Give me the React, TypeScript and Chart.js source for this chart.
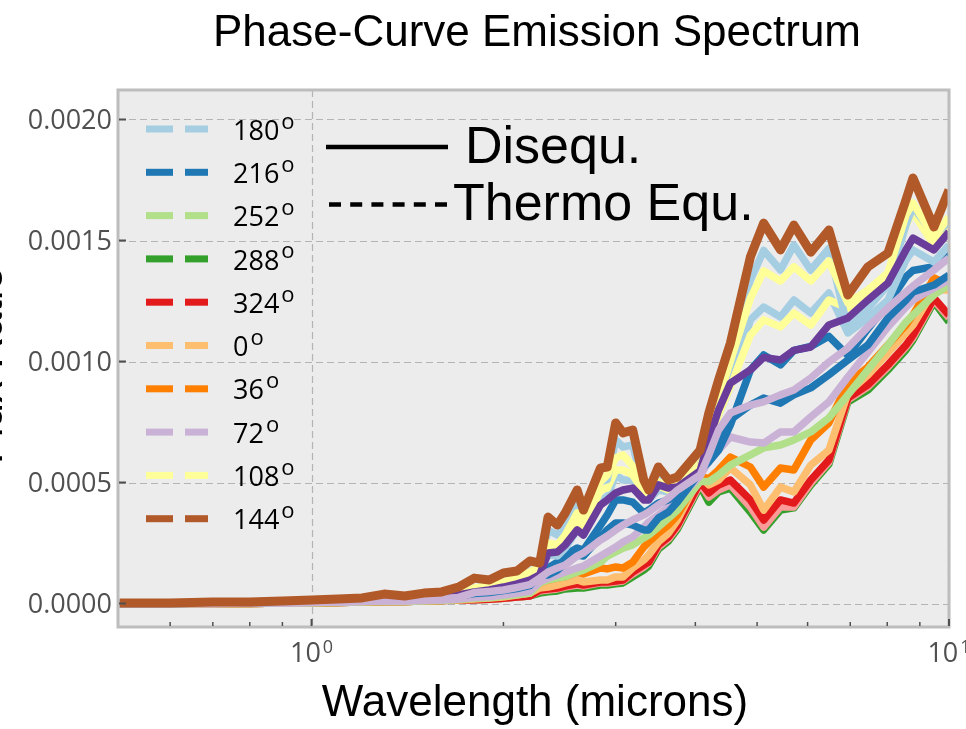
import React, { useEffect, useRef } from "react";
import { Chart, registerables } from "chart.js";

Chart.register(...registerables);

// Wavelength grid (microns)
const wavelengths = [
  0.5, 0.6, 0.7, 0.8, 0.9, 1.0, 1.1, 1.2, 1.3, 1.4,
  1.5, 1.6, 1.7, 1.8, 1.9, 2.0, 2.1, 2.2, 2.28, 2.35,
  2.43, 2.5, 2.61, 2.67, 2.84, 2.91, 3.0, 3.08, 3.19, 3.32,
  3.38, 3.5, 3.63, 3.75, 4.07, 4.2, 4.35, 4.54, 4.88, 5.12,
  5.44, 5.71, 6.07, 6.48, 6.94, 7.46, 8.02, 8.56, 8.78, 9.47,
  10.0,
];

const brown144 = [
  0.000002, 0.000002, 0.000006, 0.000006, 0.00001, 0.000014, 0.000019, 0.000023, 0.000039, 0.000031,
  0.000043, 0.000048, 0.000068, 0.000105, 0.000097, 0.000126, 0.000134, 0.000176, 0.000167, 0.000357,
  0.000324, 0.000374, 0.000469, 0.000386, 0.00056, 0.000564, 0.000746, 0.000705, 0.000717, 0.00051,
  0.000469, 0.000564, 0.00051, 0.000523, 0.000634, 0.000787, 0.000923, 0.001076, 0.001432, 0.001572,
  0.001461, 0.001564, 0.001452, 0.001543, 0.001275, 0.001391, 0.001448, 0.001668, 0.001758, 0.001556,
  0.001709,
];
const lightBlue180a = [
  0, 0, 0.000002, 0.000002, 0.000006, 0.000006, 0.00001, 0.000014, 0.000023, 0.000023,
  0.000027, 0.000031, 0.000039, 0.000064, 0.000072, 0.000089, 0.000105, 0.00013, 0.000155, 0.000304,
  0.000283, 0.000324, 0.000407, 0.000366, 0.000504, 0.000512, 0.000676, 0.000647, 0.000655, 0.000477,
  0.000448, 0.000512, 0.000486, 0.000498, 0.000566, 0.000717, 0.000841, 0.000986, 0.001337, 0.001459,
  0.001378, 0.001481, 0.001378, 0.001467, 0.001135, 0.001219, 0.001316, 0.001564, 0.001639, 0.001523,
  0.001577,
];
const yellow108a = [
  0, 0, 0.000002, 0.000002, 0.000006, 0.000006, 0.00001, 0.000014, 0.000023, 0.000023,
  0.000027, 0.000031, 0.000039, 0.000064, 0.000072, 0.000089, 0.000105, 0.00013, 0.000151, 0.00025,
  0.000242, 0.000283, 0.000374, 0.000345, 0.000504, 0.000531, 0.000601, 0.000614, 0.000568, 0.000469,
  0.000448, 0.000504, 0.000477, 0.000494, 0.000566, 0.000676, 0.000841, 0.001002, 0.001261, 0.001374,
  0.001333, 0.001391, 0.001333, 0.001415, 0.001242, 0.001295, 0.001366, 0.001606, 0.001655, 0.001514,
  0.001597,
];
const lightBlue180b = [
  0, 0, 0.000002, 0.000002, 0.000006, 0.000006, 0.00001, 0.000014, 0.000023, 0.000023,
  0.000027, 0.000031, 0.000039, 0.00006, 0.000066, 0.00008, 0.000095, 0.000115, 0.000138, 0.0002,
  0.000196, 0.000229, 0.000304, 0.000283, 0.000428, 0.00044, 0.000531, 0.00051, 0.00051, 0.000448,
  0.000428, 0.000469, 0.000461, 0.000477, 0.000572, 0.000655, 0.000779, 0.000897, 0.001172, 0.001225,
  0.001184, 0.001254, 0.0012, 0.001283, 0.001118, 0.00118, 0.001254, 0.001419, 0.001461, 0.001411,
  0.001481,
];
const yellow108b = [
  0, 0, 0.000002, 0.000002, 0.000006, 0.000006, 0.00001, 0.000014, 0.000023, 0.000023,
  0.000027, 0.000031, 0.000039, 0.00006, 0.000066, 0.00008, 0.000095, 0.000115, 0.000143, 0.000221,
  0.000213, 0.00025, 0.000345, 0.000312, 0.000469, 0.000477, 0.000552, 0.000552, 0.000531, 0.000461,
  0.00044, 0.000486, 0.000469, 0.000486, 0.000585, 0.000655, 0.000779, 0.000897, 0.001109, 0.001172,
  0.001143, 0.0012, 0.001151, 0.001254, 0.001221, 0.001275, 0.001337, 0.001564, 0.001617, 0.001481,
  0.001564,
];
const darkPurple = [
  0, 0, 0.000002, 0.000002, 0.000006, 0.000006, 0.00001, 0.000014, 0.00002, 0.00002,
  0.000023, 0.000027, 0.000035, 0.000048, 0.000056, 0.000068, 0.000081, 0.000097, 0.000118, 0.000209,
  0.000213, 0.000242, 0.000304, 0.000283, 0.000407, 0.000428, 0.000457, 0.000469, 0.000477, 0.000428,
  0.000428, 0.00049, 0.000477, 0.000481, 0.000548, 0.000676, 0.0008, 0.000911, 0.000965, 0.001017,
  0.001006, 0.001046, 0.00106, 0.001151, 0.00118, 0.001254, 0.001324, 0.001461, 0.00151, 0.001461,
  0.001535,
];
const blue216a = [
  0, 0, 0.000002, 0.000002, 0.000006, 0.000006, 0.00001, 0.000014, 0.00002, 0.00002,
  0.000023, 0.000027, 0.000033, 0.000045, 0.00005, 0.00006, 0.00007, 0.000085, 0.00013, 0.000147,
  0.000171, 0.0002, 0.000229, 0.000221, 0.000324, 0.000366, 0.000428, 0.000428, 0.000419, 0.000374,
  0.000386, 0.000415, 0.000428, 0.000448, 0.000552, 0.000585, 0.000634, 0.000738, 0.000965, 0.001027,
  0.000986, 0.001046, 0.001062, 0.001104, 0.001025, 0.001135, 0.001238, 0.00135, 0.001376, 0.001392,
  0.001446,
];
const blue216b = [
  0, 0, 0.000002, 0.000002, 0.000006, 0.000006, 0.00001, 0.000014, 0.000018, 0.000018,
  0.000021, 0.000025, 0.000031, 0.000041, 0.000045, 0.000054, 0.000062, 0.000074, 0.000118, 0.000118,
  0.000138, 0.000167, 0.0002, 0.000196, 0.000275, 0.000304, 0.000333, 0.000333, 0.000324, 0.000304,
  0.000304, 0.000353, 0.000378, 0.000419, 0.000543, 0.000601, 0.000676, 0.000759, 0.00082, 0.000849,
  0.000828, 0.000862, 0.000891, 0.000945, 0.001006, 0.001068, 0.00118, 0.001254, 0.001287, 0.001316,
  0.001357,
];
const lavender72a = [
  0, 0, 0, 0.000002, 0.000002, 0.000004, 0.000006, 0.000008, 0.000012, 0.000012,
  0.000016, 0.00002, 0.000025, 0.000045, 0.00005, 0.000056, 0.000066, 0.000078, 0.000105, 0.00013,
  0.000147, 0.000159, 0.000196, 0.000209, 0.000262, 0.000279, 0.000304, 0.000324, 0.000345, 0.000366,
  0.000378, 0.000407, 0.000436, 0.000469, 0.000531, 0.000614, 0.000717, 0.000787, 0.00082, 0.000833,
  0.000862, 0.000882, 0.000932, 0.000998, 0.001056, 0.001143, 0.001221, 0.001287, 0.001312, 0.001378,
  0.001428,
];
const lavender72b = [
  0, 0, 0, 0.000002, 0.000002, 0.000004, 0.000006, 0.000008, 0.00001, 0.00001,
  0.000012, 0.000014, 0.000018, 0.000025, 0.000028, 0.000035, 0.000042, 0.00005, 0.000089, 0.000105,
  0.000118, 0.00013, 0.000147, 0.000155, 0.000196, 0.000213, 0.000233, 0.000254, 0.000275, 0.000316,
  0.000337, 0.000366, 0.000399, 0.000428, 0.000527, 0.000589, 0.000634, 0.000688, 0.000667, 0.000663,
  0.000709, 0.000709, 0.000771, 0.000833, 0.000936, 0.001039, 0.001143, 0.001225, 0.001254, 0.001304,
  0.001337,
];
const green252 = [
  0, 0, 0, 0, 0.000002, 0.000002, 0.000004, 0.000006, 0.000008, 0.000008,
  0.00001, 0.000012, 0.000016, 0.000022, 0.000024, 0.00003, 0.000036, 0.000042, 0.000085, 0.000097,
  0.000105, 0.00011, 0.00013, 0.000138, 0.000171, 0.000196, 0.000213, 0.000229, 0.000242, 0.000271,
  0.000283, 0.000316, 0.000353, 0.000386, 0.000504, 0.000504, 0.000531, 0.000572, 0.000614, 0.000643,
  0.000655, 0.000676, 0.000709, 0.000767, 0.000862, 0.000965, 0.001068, 0.001163, 0.001192, 0.001275,
  0.001316,
];
const orange36 = [
  0, 0, 0, 0, 0.000002, 0.000002, 0.000004, 0.000006, 0.000008, 0.000008,
  0.00001, 0.000012, 0.000016, 0.000023, 0.000027, 0.000035, 0.000043, 0.000056, 0.000085, 0.000097,
  0.000105, 0.00011, 0.00013, 0.000122, 0.000147, 0.000143, 0.000151, 0.000147, 0.000171, 0.000233,
  0.000254, 0.000291, 0.000324, 0.000366, 0.000527, 0.000515, 0.000552, 0.000605, 0.000564, 0.000481,
  0.00056, 0.000552, 0.000676, 0.000746, 0.000911, 0.000977, 0.001068, 0.001151, 0.001192, 0.001345,
  0.001316,
];
const orange0 = [
  0, 0, 0, 0, 0.000002, 0.000002, 0.000004, 0.000006, 0.000008, 0.000008,
  0.00001, 0.000012, 0.000014, 0.000019, 0.000023, 0.000027, 0.000035, 0.000043, 0.000064, 0.000068,
  0.000076, 0.000085, 0.000097, 0.000089, 0.000097, 0.000097, 0.00011, 0.00011, 0.000147, 0.00018,
  0.0002, 0.000254, 0.000291, 0.000345, 0.000527, 0.00049, 0.00051, 0.00056, 0.00049, 0.000386,
  0.000481, 0.000461, 0.000572, 0.000634, 0.00087, 0.000944, 0.001035, 0.001118, 0.001151, 0.001295,
  0.001295,
];
const red324 = [
  0, 0, 0, 0, 0.000002, 0.000002, 0.000004, 0.000006, 0.000008, 0.000008,
  0.00001, 0.000012, 0.000014, 0.000016, 0.000018, 0.000022, 0.000027, 0.000031, 0.000056, 0.00006,
  0.000064, 0.000072, 0.000081, 0.000076, 0.000089, 0.000089, 0.000093, 0.000097, 0.00013, 0.000159,
  0.000171, 0.000242, 0.000275, 0.000324, 0.000502, 0.000457, 0.00049, 0.00051, 0.000428, 0.000345,
  0.000428, 0.000415, 0.00051, 0.000593, 0.000849, 0.000903, 0.000986, 0.001068, 0.001109, 0.001262,
  0.001192,
];
const pinkLine = [
  0, 0, 0, 0, 0.000002, 0.000002, 0.000004, 0.000006, 0.000008, 0.000008,
  0.00001, 0.000012, 0.000014, 0.000016, 0.000018, 0.000022, 0.000027, 0.000031, 0.000052, 0.000056,
  0.00006, 0.000068, 0.000076, 0.000072, 0.000085, 0.000085, 0.000089, 0.000093, 0.000122, 0.000151,
  0.000167, 0.000233, 0.000267, 0.000316, 0.000494, 0.00044, 0.000469, 0.00049, 0.000399, 0.000316,
  0.000399, 0.000399, 0.000498, 0.000585, 0.000841, 0.000895, 0.000977, 0.00106, 0.001098, 0.001254,
  0.00118,
];
const green288 = [
  0, 0, 0, 0, 0.000002, 0.000002, 0.000004, 0.000006, 0.000008, 0.000008,
  0.00001, 0.000012, 0.000014, 0.000016, 0.000018, 0.000022, 0.000027, 0.000031, 0.000043, 0.000048,
  0.000052, 0.00006, 0.000064, 0.000064, 0.000076, 0.000076, 0.000081, 0.000085, 0.00011, 0.000138,
  0.000155, 0.000225, 0.000258, 0.000308, 0.000486, 0.000419, 0.000461, 0.000477, 0.000378, 0.000304,
  0.000386, 0.000395, 0.00049, 0.000576, 0.000833, 0.000882, 0.000965, 0.001048, 0.001089, 0.001246,
  0.001163,
];

const phaseLabels = ["180", "216", "252", "288", "324", "0", "36", "72", "108", "144"];
const phaseColors = ["#a6cee3", "#1f78b4", "#b2df8a", "#33a02c", "#e31a1c", "#fdbf6f", "#ff7f00", "#cab2d6", "#ffff99", "#b15928"];
const yTicks = [0, 0.0005, 0.001, 0.0015, 0.002];
const xMajorTicks = [1, 10];
const xMajorLabels = ["0", "1"];
const xMinorTicks = [0.6, 0.7, 0.8, 0.9, 2, 3, 4, 5, 6, 7, 8, 9];

// top-most first
const series = [
  { name: "144", data: brown144, color: "#b15928", width: 9 },
  { name: "72a", data: lavender72a, color: "#cab2d6", width: 7.5 },
  { name: "purple", data: darkPurple, color: "#6a3d9a", width: 7.5 },
  { name: "108a", data: yellow108a, color: "#ffff99", width: 7.5 },
  { name: "180a", data: lightBlue180a, color: "#a6cee3", width: 7.5 },
  { name: "108b", data: yellow108b, color: "#ffff99", width: 7.5 },
  { name: "180b", data: lightBlue180b, color: "#a6cee3", width: 7.5 },
  { name: "216a", data: blue216a, color: "#1f78b4", width: 7.5 },
  { name: "216b", data: blue216b, color: "#1f78b4", width: 7.5 },
  { name: "72b", data: lavender72b, color: "#cab2d6", width: 7.5 },
  { name: "252", data: green252, color: "#b2df8a", width: 7.5 },
  { name: "36", data: orange36, color: "#ff7f00", width: 7.5 },
  { name: "0", data: orange0, color: "#fdbf6f", width: 7.5 },
  { name: "324", data: red324, color: "#e31a1c", width: 7.5 },
  { name: "pink", data: pinkLine, color: "#fb9a99", width: 7.5 },
  { name: "288", data: green288, color: "#33a02c", width: 7.5 },
];

const TICK_FONT = "'Open Sans', 'DejaVu Sans', sans-serif";
const TEXT_FONT = "'Liberation Sans', Arial, sans-serif";

function seg(ctx: CanvasRenderingContext2D, x1: number, y1: number, x2: number, y2: number) {
  ctx.beginPath();
  ctx.moveTo(x1, y1);
  ctx.lineTo(x2, y2);
  ctx.stroke();
}

const decorPlugin = {
  id: "decor",
  beforeDraw(chart: any) {
    const { ctx, chartArea: a, scales } = chart;
    const x = scales.x, y = scales.y;
    ctx.save();
    ctx.fillStyle = "#ffffff";
    ctx.fillRect(0, 0, chart.width, chart.height);
    ctx.fillStyle = "#ececec";
    ctx.fillRect(a.left, a.top, a.right - a.left, a.bottom - a.top);
    ctx.strokeStyle = "#b4b4b4";
    ctx.lineWidth = 1.2;
    ctx.setLineDash([7, 4]);
    for (const v of yTicks) {
      const py = Math.round(y.getPixelForValue(v)) + 0.5;
      seg(ctx, a.left, py, a.right, py);
    }
    for (const v of xMajorTicks) {
      const px = Math.round(x.getPixelForValue(v)) + 0.5;
      seg(ctx, px, a.top, px, a.bottom);
    }
    ctx.restore();
  },
  afterDatasetsDraw(chart: any) {
    const { ctx, chartArea: a, scales } = chart;
    const x = scales.x, y = scales.y;
    ctx.save();
    ctx.setLineDash([]);
    // frame
    ctx.strokeStyle = "#bdbdbd";
    ctx.lineWidth = 3;
    ctx.strokeRect(a.left, a.top, a.right - a.left, a.bottom - a.top);

    // y ticks + labels
    ctx.strokeStyle = "#505050";
    ctx.lineWidth = 2;
    ctx.fillStyle = "#505050";
    ctx.font = `27px ${TICK_FONT}`;
    ctx.textAlign = "right";
    ctx.textBaseline = "alphabetic";
    for (const v of yTicks) {
      const py = y.getPixelForValue(v);
      seg(ctx, a.left + 1, py, a.left + 8, py);
      ctx.fillText(v.toFixed(4), 112, py + 9.6);
    }
    // x ticks
    for (const v of xMinorTicks) {
      const px = x.getPixelForValue(v);
      ctx.lineWidth = 1.5;
      seg(ctx, px, a.bottom - 1, px, a.bottom - 5);
    }
    xMajorTicks.forEach((v, i) => {
      const px = x.getPixelForValue(v);
      ctx.lineWidth = 2;
      seg(ctx, px, a.bottom - 1, px, a.bottom - 8);
      ctx.font = `27px ${TICK_FONT}`;
      const wBase = ctx.measureText("10").width;
      ctx.font = `18px ${TICK_FONT}`;
      const wSup = ctx.measureText(xMajorLabels[i]).width;
      const total = wBase + 2 + wSup;
      const left = px - total / 2;
      ctx.textAlign = "left";
      ctx.font = `27px ${TICK_FONT}`;
      ctx.fillText("10", left, 662);
      ctx.font = `18px ${TICK_FONT}`;
      ctx.fillText(xMajorLabels[i], left + wBase + 2, 653);
    });

    // phase legend
    ctx.textAlign = "left";
    phaseLabels.forEach((lab, i) => {
      const cy = 130 + i * 43.3;
      ctx.strokeStyle = phaseColors[i];
      ctx.lineWidth = 7;
      ctx.lineCap = "butt";
      seg(ctx, 146, cy - 1, 173, cy - 1);
      seg(ctx, 185, cy - 1, 208, cy - 1);
      ctx.fillStyle = "#000000";
      ctx.font = `27px ${TICK_FONT}`;
      ctx.fillText(lab, 233, cy + 9.6);
      const w = ctx.measureText(lab).width;
      ctx.font = `22px ${TICK_FONT}`;
      ctx.fillText("o", 233 + w + 2, cy - 1.5);
    });

    // model legend
    ctx.strokeStyle = "#000000";
    ctx.lineWidth = 4.5;
    seg(ctx, 326, 147, 448, 147);
    ctx.setLineDash([12, 9.2]);
    seg(ctx, 329, 204.5, 448, 204.5);
    ctx.setLineDash([]);
    ctx.fillStyle = "#000000";
    ctx.font = `52px ${TEXT_FONT}`;
    ctx.fillText("Disequ.", 465, 163);
    ctx.fillText("Thermo Equ.", 453, 220);

    // titles
    ctx.textAlign = "center";
    ctx.font = `44px ${TEXT_FONT}`;
    ctx.fillText("Phase-Curve Emission Spectrum", 537, 46);
    ctx.fillText("Wavelength (microns)", 535, 716);

    // y title (mostly outside the page)
    ctx.save();
    ctx.translate(2, 365);
    ctx.rotate(-Math.PI / 2);
    ctx.font = `44px ${TEXT_FONT}`;
    ctx.textAlign = "center";
    ctx.fillText("Flux Ratio", 0, 0);
    ctx.restore();

    ctx.restore();
  },
};

export default function App() {
  const canvasRef = useRef<HTMLCanvasElement | null>(null);

  useEffect(() => {
    const canvas = canvasRef.current;
    if (!canvas) return;
    const chart = new Chart(canvas, {
      type: "line",
      data: {
        datasets: series.map((s) => ({
          label: s.name,
          data: wavelengths.map((w, i) => ({ x: w, y: s.data[i] })),
          borderColor: s.color,
          backgroundColor: s.color,
          borderWidth: s.width,
          pointRadius: 0,
          tension: 0,
          fill: false,
          borderJoinStyle: "round",
          borderCapStyle: "butt",
          clip: 0,
        })),
      },
      options: {
        responsive: false,
        devicePixelRatio: 1,
        animation: false,
        events: [],
        layout: { padding: { left: 118, top: 90, right: 17, bottom: 102 } },
        plugins: {
          legend: { display: false },
          tooltip: { enabled: false },
          title: { display: false },
        },
        scales: {
          x: { type: "logarithmic", min: 0.497, max: 10, display: false },
          y: { type: "linear", min: -0.0000971, max: 0.0021219, display: false },
        },
      },
      plugins: [decorPlugin],
    } as any);
    let alive = true;
    if ((document as any).fonts) {
      Promise.all([
        (document as any).fonts.load(`26px 'Open Sans'`),
        (document as any).fonts.load(`44px 'Liberation Sans'`),
      ]).then(() => {
        if (alive) chart.update();
      }).catch(() => {});
    }
    return () => {
      alive = false;
      chart.destroy();
    };
  }, []);

  return (
    <div style={{ position: "absolute", left: 0, top: 0, width: 966, height: 729, background: "#fff" }}>
      <canvas ref={canvasRef} width={966} height={729} style={{ display: "block", width: 966, height: 729 }} />
    </div>
  );
}
